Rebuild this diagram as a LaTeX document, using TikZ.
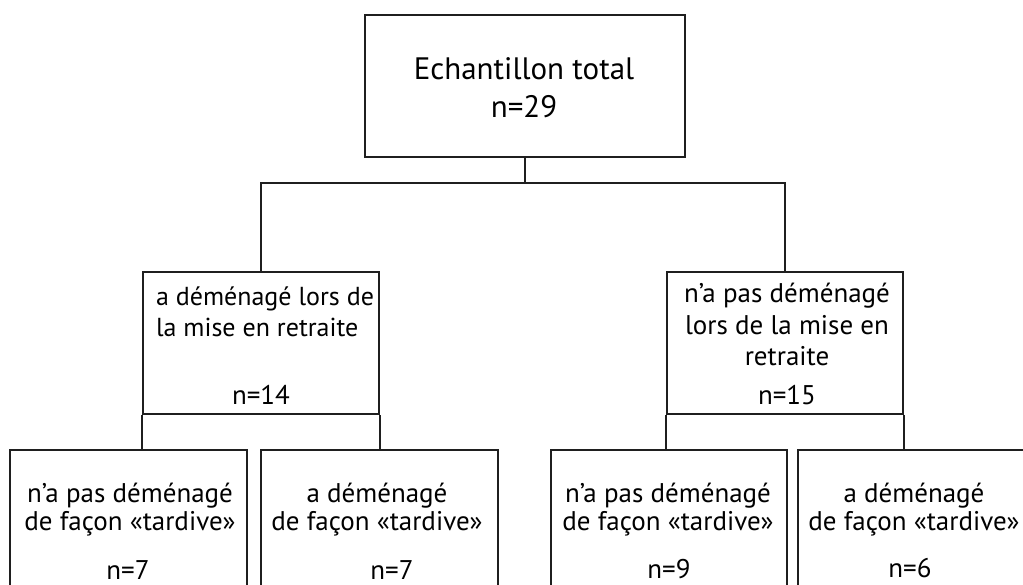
\documentclass[tikz,border=0pt]{standalone}
\usepackage{fontspec}
\setmainfont{PT Sans}
\usetikzlibrary{positioning,calc}

\begin{document}
\begin{tikzpicture}[x=1pt, y=-1pt, line width=2pt,
  box/.style={draw=black!88, rectangle, inner sep=0pt},
  big/.style={font=\fontsize{31}{38}\selectfont, inner sep=0pt},
  mid/.style={font=\fontsize{27}{31.5}\selectfont, inner sep=0pt},
  low/.style={font=\fontsize{27}{28}\selectfont, inner sep=0pt}]
\clip (0,0) rectangle (1023,585);

% Total sample
\node[box, minimum width=320pt, minimum height=142pt] (total) at (525,86) {};
\node[big, align=center, anchor=base] (totaltxt) at (524,118) {Echantillon total\\n=29};

% Moved at retirement / did not move
\node[box, minimum width=236pt, minimum height=142pt] (moved) at (261,343) {};
\node[mid, font=\fontsize{26}{31}\selectfont, align=left, anchor=base west] (movedtxt) at (155,337) {a déménagé lors de\\la mise en retraite};
\node[mid, anchor=base] (movedn) at (261,404) {n=14};

\node[box, minimum width=236pt, minimum height=142pt] (stayed) at (785,343) {};
\node[mid, align=center, anchor=base] (stayedtxt) at (787,366) {n’a pas déménagé\\lors de la mise en\\retraite};
\node[mid, anchor=base] (stayedn) at (787,404) {n=15};

% Late moves
\node[box, minimum width=237pt, minimum height=160pt] (mvstay) at (128.5,530) {};
\node[low, align=center, anchor=base] (mvstaytxt) at (130,530) {n’a pas déménagé\\de façon «tardive»};
\node[low, anchor=base] (mvstayn) at (128,579) {n=7};

\node[box, minimum width=237pt, minimum height=160pt] (mvlate) at (379.5,530) {};
\node[low, align=center, anchor=base] (mvlatetxt) at (377,530) {a déménagé\\de façon «tardive»};
\node[low, anchor=base] (mvlaten) at (392,579) {n=7};

\node[box, minimum width=236pt, minimum height=160pt] (ststay) at (669,530) {};
\node[low, align=center, anchor=base] (ststaytxt) at (668,530) {n’a pas déménagé\\de façon «tardive»};
\node[low, anchor=base] (ststayn) at (669,578) {n=9};

\node[box, minimum width=237pt, minimum height=160pt] (stlate) at (916.5,530) {};
\node[low, align=center, anchor=base] (stlatetxt) at (914,530) {a déménagé\\de façon «tardive»};
\node[low, anchor=base] (stlaten) at (910,577) {n=6};

% Connectors
\coordinate (split) at (525,183);
\draw[black!88] (total.south) -- (split);
\draw[black!88] (moved.north) |- (split) -| (stayed.north);
\draw[black!88] (moved.south west) -- (moved.south west |- mvstay.north);
\draw[black!88] (moved.south east) -- (moved.south east |- mvlate.north);
\draw[black!88] (stayed.south west) -- (stayed.south west |- ststay.north);
\draw[black!88] (stayed.south east) -- (stayed.south east |- stlate.north);
\end{tikzpicture}
\end{document}
